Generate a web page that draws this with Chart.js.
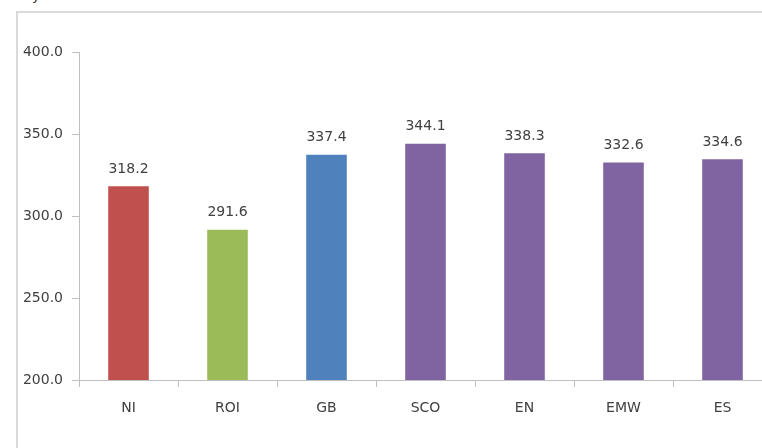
<!DOCTYPE html>
<html>
<head>
<meta charset="utf-8">
<script src="https://cdn.jsdelivr.net/npm/chart.js@4/dist/chart.umd.min.js"></script>
<style>
    html, body { margin: 0; padding: 0; background: #fff; }
    #wrap { position: absolute; left: 0; top: 0; width: 762px; height: 448px; overflow: hidden; }
    #cut { position: absolute; left: 32px; top: -13px; font: 14px "DejaVu Sans"; color: #333; }
    #chart { position: absolute; left: 0; top: 0; }
</style>
</head>
<body>
<div id="wrap">
    <div id="cut">y</div>
    <canvas id="chart" width="800" height="448"></canvas>
</div>
<script>
const categories = ['NI', 'ROI', 'GB', 'SCO', 'EN', 'EMW', 'ES'];
const values = [318.2, 291.6, 337.4, 344.1, 338.3, 332.6, 334.6];
const barColors = ['#c0504d', '#9bbb59', '#4f81bd', '#8064a2', '#8064a2', '#8064a2', '#8064a2'];
const yTicks = [200, 250, 300, 350, 400];

const textColor = '#404040';
const axisColor = '#bfbfbf';
const frameColor = '#d9d9d9';
const font = { family: 'DejaVu Sans', size: 14 };

// chart frame (left and top edges are all that show in the picture)
const frame = {
    id: 'frame',
    beforeDraw(chart) {
        const ctx = chart.ctx;
        ctx.save();
        ctx.strokeStyle = frameColor;
        ctx.lineWidth = 2;
        ctx.beginPath();
        ctx.moveTo(17, chart.height);
        ctx.lineTo(17, 12);
        ctx.lineTo(chart.width, 12);
        ctx.stroke();
        ctx.restore();
    }
};

const valueLabels = {
    id: 'valueLabels',
    afterDatasetsDraw(chart) {
        const ctx = chart.ctx;
        const meta = chart.getDatasetMeta(0);
        ctx.save();
        ctx.font = '14px "DejaVu Sans"';
        ctx.fillStyle = textColor;
        ctx.textAlign = 'center';
        ctx.textBaseline = 'middle';
        meta.data.forEach((bar, i) => {
            ctx.fillText(values[i].toFixed(1), bar.x, bar.y - 17);
        });
        ctx.restore();
    }
};

new Chart(document.getElementById('chart'), {
    type: 'bar',
    data: {
        labels: categories,
        datasets: [{
            data: values,
            backgroundColor: barColors,
            borderWidth: 0,
            barPercentage: 0.41,
            categoryPercentage: 1
        }]
    },
    options: {
        responsive: false,
        animation: false,
        layout: { autoPadding: false, padding: { top: 52, right: 28, bottom: 0, left: 0 } },
        plugins: { legend: { display: false }, tooltip: { enabled: false } },
        scales: {
            x: {
                grid: { drawOnChartArea: false, color: axisColor, tickLength: 7, offset: true },
                border: { color: axisColor, width: 1 },
                ticks: { color: textColor, font: font, padding: 13 },
                afterFit(scale) { scale.height = 68; }
            },
            y: {
                min: yTicks[0],
                max: yTicks[yTicks.length - 1],
                afterBuildTicks(scale) { scale.ticks = yTicks.map(v => ({ value: v })); },
                grid: { drawOnChartArea: false, color: axisColor, tickLength: 7 },
                border: { color: axisColor, width: 1 },
                ticks: { color: textColor, font: font, padding: 9, callback: v => v.toFixed(1) },
                afterFit(scale) { scale.width = 79; }
            }
        }
    },
    plugins: [frame, valueLabels]
});
</script>
</body>
</html>
